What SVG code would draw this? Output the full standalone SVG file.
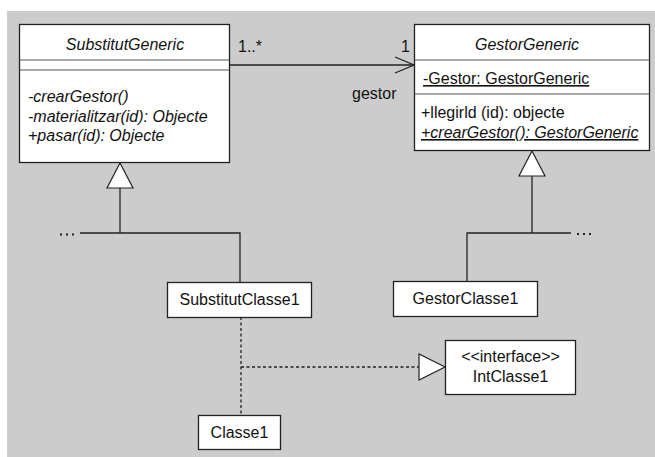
<svg xmlns="http://www.w3.org/2000/svg" width="655" height="457" viewBox="0 0 655 457">
  <style>
    text { font-family: "Liberation Sans", "Noto Sans", sans-serif; font-size: 16px; fill: #111; }
    .it { font-style: italic; }
    .u { text-decoration: underline; }
    .mid { text-anchor: middle; }
    .box { fill: #fff; stroke: #222; stroke-width: 1.3; }
    .sep { stroke: #555; stroke-width: 1.2; }
    .line { fill: none; stroke: #222; stroke-width: 1.3; }
    .dash { fill: none; stroke: #222; stroke-width: 1.3; stroke-dasharray: 3 2.5; }
    .tri { fill: #fff; stroke: #222; stroke-width: 1.2; }
    .dot { fill: #222; }
  </style>

  <!-- background panel -->
  <rect x="7" y="11" width="648" height="446" fill="#cccccc"/>

  <!-- connectors -->
  <g id="connectors">
    <!-- association SubstitutGeneric -> GestorGeneric -->
    <line class="line" x1="229" y1="65" x2="414" y2="65"/>
    <polyline class="line" points="395,57 414,65 395,73"/>
    <text x="238" y="52">1..*</text>
    <text x="401" y="52">1</text>
    <text x="352" y="99">gestor</text>

    <!-- generalization to SubstitutGeneric -->
    <polyline class="line" points="80,233 240,233 240,282"/>
    <line class="line" x1="120" y1="188" x2="120" y2="233"/>
    <polygon class="tri" points="120,163 107,188 133,188"/>
    <rect class="dot" x="60" y="233.5" width="2" height="2"/>
    <rect class="dot" x="66" y="233.5" width="2" height="2"/>
    <rect class="dot" x="72" y="233.5" width="2" height="2"/>

    <!-- generalization to GestorGeneric -->
    <polyline class="line" points="571,233 467,233 467,281"/>
    <line class="line" x1="532" y1="176" x2="532" y2="233"/>
    <polygon class="tri" points="532,151 519,176 545,176"/>
    <rect class="dot" x="577" y="233" width="2" height="2"/>
    <rect class="dot" x="583" y="233" width="2" height="2"/>
    <rect class="dot" x="589" y="233" width="2" height="2"/>

    <!-- realization of IntClasse1 -->
    <line class="dash" x1="241" y1="317" x2="241" y2="415"/>
    <line class="dash" x1="241" y1="367" x2="419" y2="367"/>
    <polygon class="tri" points="445,367 419,354 419,380"/>
  </g>

  <g id="SubstitutGeneric">
    <rect class="box" x="19.5" y="24.5" width="210" height="138"/>
    <line class="sep" x1="19.5" y1="60" x2="229.5" y2="60"/>
    <line class="sep" x1="19.5" y1="70" x2="229.5" y2="70"/>
    <text class="it mid" x="125" y="50">SubstitutGeneric</text>
    <text class="it" x="28" y="102">-crearGestor()</text>
    <text class="it" x="28" y="122">-materialitzar(id): Objecte</text>
    <text class="it" x="28" y="141">+pasar(id): Objecte</text>
  </g>

  <g id="GestorGeneric">
    <rect class="box" x="414.5" y="24.5" width="235" height="126"/>
    <line class="sep" x1="414.5" y1="60" x2="649.5" y2="60"/>
    <line class="sep" x1="414.5" y1="94" x2="649.5" y2="94"/>
    <text class="it mid" x="527" y="50">GestorGeneric</text>
    <text class="u" x="423" y="84">-Gestor: GestorGeneric</text>
    <text x="421" y="118">+llegirld (id): objecte</text>
    <text class="it u" x="421" y="138">+crearGestor(): GestorGeneric</text>
  </g>

  <g id="SubstitutClasse1">
    <rect class="box" x="167.5" y="282.5" width="144" height="35"/>
    <text class="mid" x="239.5" y="305">SubstitutClasse1</text>
  </g>

  <g id="GestorClasse1">
    <rect class="box" x="393.5" y="281.5" width="144" height="35"/>
    <text class="mid" x="465.5" y="304">GestorClasse1</text>
  </g>

  <g id="IntClasse1">
    <rect class="box" x="445.5" y="340.5" width="130" height="54"/>
    <text class="mid" x="510.5" y="362">&lt;&lt;interface&gt;&gt;</text>
    <text class="mid" x="510.5" y="382">IntClasse1</text>
  </g>

  <g id="Classe1">
    <rect class="box" x="198.5" y="415.5" width="82" height="34"/>
    <text class="mid" x="239.5" y="438">Classe1</text>
  </g>
</svg>
